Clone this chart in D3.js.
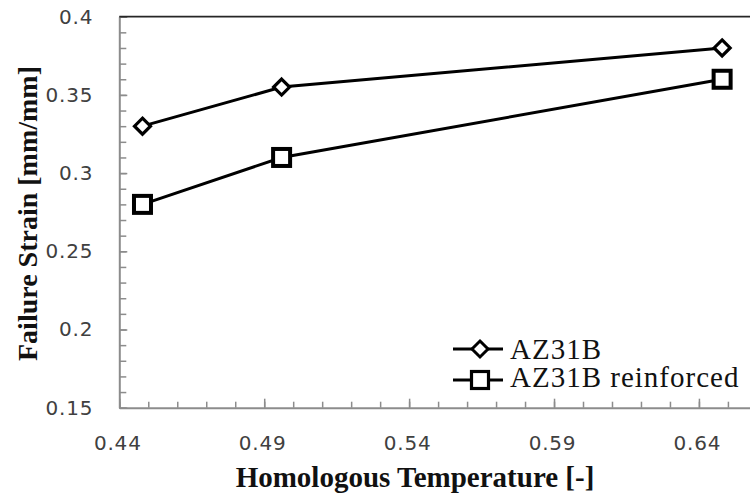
<!DOCTYPE html>
<html>
<head>
<meta charset="utf-8">
<script src="https://cdn.jsdelivr.net/npm/d3@7"></script>
<style>
  body { margin: 0; background: #fff; }
  svg { display: block; }
</style>
</head>
<body>
<div id="chart"></div>
<script>
// 数据
const temps = [0.448, 0.496, 0.648];
const az31b = [0.33, 0.355, 0.38];
const az31bReinforced = [0.28, 0.31, 0.36];
const xTicks = [0.44, 0.49, 0.54, 0.59, 0.64];
const yTicks = [0.15, 0.2, 0.25, 0.3, 0.35, 0.4];
const seriesNames = ['AZ31B', 'AZ31B reinforced'];

const width = 750;
const height = 498;

// 颜色配置
const colors = {
  axis: '#8c8c8c',
  frame: '#262626',
  tick: '#404040',
  line: '#000000'
};

const x = d3.scaleLinear().domain([0.44, 0.66]).range([119.3, 756.9]);
const y = d3.scaleLinear().domain([0.15, 0.4]).range([407.7, 16.7]);

const svg = d3.select('#chart')
  .append('svg')
  .attr('width', width)
  .attr('height', height);

// 次刻度
const xMinor = d3.range(44, 67).map(v => v / 100);
const yMinor = d3.range(15, 41).map(v => v / 100);

svg.append('g')
  .attr('transform', `translate(0,${y(0.15)})`)
  .call(d3.axisBottom(x).tickValues(xMinor).tickSize(-6).tickSizeOuter(0).tickFormat(''))
  .call(g => g.select('.domain').remove())
  .call(g => g.selectAll('line').attr('stroke', colors.axis).attr('stroke-width', 1.5));

svg.append('g')
  .attr('transform', `translate(${x(0.44)},0)`)
  .call(d3.axisLeft(y).tickValues(yMinor).tickSize(-7).tickSizeOuter(0).tickFormat(''))
  .call(g => g.select('.domain').remove())
  .call(g => g.selectAll('line').attr('stroke', colors.axis).attr('stroke-width', 1.5));

// 主坐标轴
const tickFont = g => {
  g.attr('font-size', 20).attr('font-family', 'DejaVu Sans');
  g.selectAll('text')
    .attr('fill', colors.tick)
    .attr('font-size', 20)
    .attr('letter-spacing', 0.8);
};

svg.append('g')
  .attr('transform', `translate(0,${y(0.15)})`)
  .call(d3.axisBottom(x).tickValues(xTicks).tickSize(-9).tickSizeOuter(0).tickPadding(28).tickFormat(d => d))
  .call(tickFont)
  .call(g => g.select('.domain').attr('stroke', colors.axis).attr('stroke-width', 2))
  .call(g => g.selectAll('line').attr('stroke', colors.axis).attr('stroke-width', 1.5))
  .call(g => g.selectAll('text').attr('dx', -2));

svg.append('g')
  .attr('transform', `translate(${x(0.44)},0)`)
  .call(d3.axisLeft(y).tickValues(yTicks).tickSize(-8).tickSizeOuter(0).tickPadding(26).tickFormat(d => d))
  .call(tickFont)
  .call(g => g.select('.domain').attr('stroke', colors.axis).attr('stroke-width', 2))
  .call(g => g.selectAll('line').attr('stroke', colors.axis).attr('stroke-width', 1.5));

// 顶部边框
svg.append('line')
  .attr('x1', x(0.44)).attr('x2', width)
  .attr('y1', y(0.4)).attr('y2', y(0.4))
  .attr('stroke', colors.frame)
  .attr('stroke-width', 1.8);

// 坐标轴标题
svg.append('text')
  .attr('x', 415)
  .attr('y', 487)
  .attr('text-anchor', 'middle')
  .style('font-family', '"Liberation Serif", "Times New Roman", serif')
  .style('font-weight', 'bold')
  .style('font-size', '29px')
  .attr('fill', '#111')
  .text('Homologous Temperature [-]');

svg.append('text')
  .attr('transform', 'translate(37,213.5) rotate(-90)')
  .attr('text-anchor', 'middle')
  .style('font-family', '"Liberation Serif", "Times New Roman", serif')
  .style('font-weight', 'bold')
  .style('font-size', '28px')
  .attr('fill', '#111')
  .text('Failure Strain [mm/mm]');

// 折线
const line = d3.line()
  .x(d => x(d[0]))
  .y(d => y(d[1]));

const diamondData = temps.map((t, i) => [t, az31b[i]]);
const squareData = temps.map((t, i) => [t, az31bReinforced[i]]);

[diamondData, squareData].forEach(data => {
  svg.append('path')
    .datum(data)
    .attr('d', line)
    .attr('fill', 'none')
    .attr('stroke', colors.line)
    .attr('stroke-width', 3);
});

const diamond = 'M0,-8 L8,0 L0,8 L-8,0 Z';

svg.append('g')
  .selectAll('path')
  .data(diamondData)
  .enter()
  .append('path')
  .attr('d', diamond)
  .attr('transform', d => `translate(${x(d[0])},${y(d[1])})`)
  .attr('fill', '#fff')
  .attr('stroke', colors.line)
  .attr('stroke-width', 3.2);

svg.append('g')
  .selectAll('rect')
  .data(squareData)
  .enter()
  .append('rect')
  .attr('x', d => x(d[0]) - 8.5)
  .attr('y', d => y(d[1]) - 8.5)
  .attr('width', 17)
  .attr('height', 17)
  .attr('fill', '#fff')
  .attr('stroke', colors.line)
  .attr('stroke-width', 4);

// 图例
const legendRows = [
  { name: seriesNames[0], y: 349, base: 358.5, marker: 'diamond' },
  { name: seriesNames[1], y: 380, base: 387, marker: 'square' }
];

const legend = svg.append('g');
legendRows.forEach(row => {
  legend.append('line')
    .attr('x1', 453).attr('x2', 503)
    .attr('y1', row.y).attr('y2', row.y)
    .attr('stroke', colors.line)
    .attr('stroke-width', 3);
  if (row.marker === 'diamond') {
    legend.append('path')
      .attr('d', diamond)
      .attr('transform', `translate(480,${row.y})`)
      .attr('fill', '#fff')
      .attr('stroke', colors.line)
      .attr('stroke-width', 3);
  } else {
    legend.append('rect')
      .attr('x', 480 - 8.5).attr('y', row.y - 8.5)
      .attr('width', 17).attr('height', 17)
      .attr('fill', '#fff')
      .attr('stroke', colors.line)
      .attr('stroke-width', 3.2);
  }
  legend.append('text')
    .attr('x', 510)
    .attr('y', row.base)
    .style('font-family', '"Liberation Serif", "Times New Roman", serif')
    .style('font-size', '29px')
    .style('letter-spacing', '1px')
    .attr('fill', '#111')
    .text(row.name);
});
</script>
</body>
</html>
